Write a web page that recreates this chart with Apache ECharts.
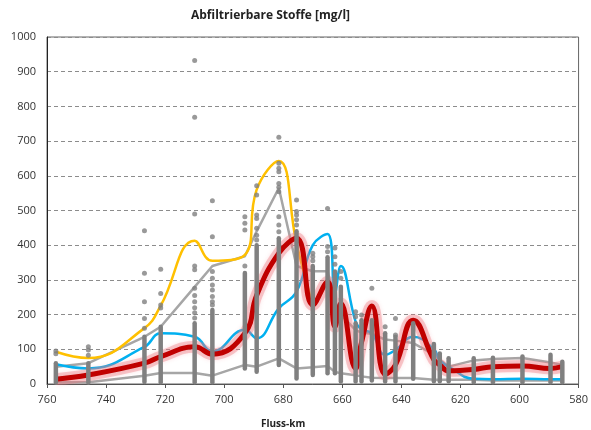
<!DOCTYPE html>
<html>
<head>
<meta charset="utf-8">
<script src="https://cdn.jsdelivr.net/npm/echarts@6/dist/echarts.min.js"></script>
<style>
  html, body { margin: 0; padding: 0; background: #fff; }
</style>
</head>
<body>
<div id="chart" style="width:591px;height:430px;"></div>
<script>
// Messstellen (Fluss-km)
var stations = [757, 746, 727, 721.5, 710, 704, 693, 689, 681.5, 675.5, 670, 665, 662.5, 660.5,
  655.5, 653.5, 650, 645.5, 642, 636, 629, 627, 624, 615.5, 609, 599, 589.5, 585.5];

var redLine   = [14, 26, 60, 79, 107, 86, 146, 256, 377, 420, 228, 295, 165, 232,
  45, 120, 225, 28, 55, 184, 70, 55, 38, 42, 50, 52, 45, 50];
var blueLine  = [57, 45, 107, 146, 136, 93, 156, 132, 218, 266, 400, 432, 262, 340,
  180, 158, 146, 84, 98, 136, 100, 68, 50, 15, 14, 15, 14, 14];
var grayUpper = [50, 60, 136, 165, 280, 340, 368, 440, 565, 340, 325, 325, 240, 200,
  155, 148, 145, 128, 125, 118, 85, 70, 50, 68, 72, 75, 62, 55];
var grayLower = [5, 5, 24, 32, 32, 24, 55, 50, 74, 45, 48, 52, 35, 31,
  25, 22, 18, 17, 17, 17, 12, 12, 12, 12, 10, 10, 10, 10];
// gelbe Linie endet bei km 670
var yellowLine = [93, 75, 161, 226, 413, 355, 372, 560, 643, 405, 228];

// dichte Messwertsäulen je Station (von - bis)
var colLow  = [4, 4, 6, 5, 5, 5, 45, 35, 55, 16, 26, 31, 31, 7, 7, 7, 10, 7, 7, 15, 8, 8, 8, 5, 5, 5, 5, 5];
var colHigh = [60, 60, 136, 165, 175, 213, 320, 400, 420, 440, 340, 365, 324, 280,
  175, 184, 184, 146, 136, 175, 115, 88, 74, 74, 76, 79, 84, 64];

// einzelne Messwerte oberhalb der Säulen
var dots = [
  [757, 87], [757, 95], [746, 83], [746, 98], [746, 107],
  [727, 161], [727, 189], [727, 237], [727, 319], [727, 442],
  [721.5, 219], [721.5, 228], [721.5, 261], [721.5, 331],
  [710, 190], [710, 205], [710, 220], [710, 237], [710, 255], [710, 276], [710, 329], [710, 340], [710, 490], [710, 769], [710, 932],
  [704, 228], [704, 237], [704, 252], [704, 271], [704, 285], [704, 305], [704, 324], [704, 424], [704, 528],
  [693, 340], [693, 444], [693, 463], [693, 482],
  [689, 415], [689, 429], [689, 449], [689, 477], [689, 487], [689, 545], [689, 571],
  [681.5, 439], [681.5, 458], [681.5, 482], [681.5, 554], [681.5, 567], [681.5, 578], [681.5, 612], [681.5, 622], [681.5, 636], [681.5, 711],
  [675.5, 458], [675.5, 473], [675.5, 487], [675.5, 497], [675.5, 530],
  [670, 355], [670, 367], [670, 377],
  [665, 381], [665, 396], [665, 506],
  [662.5, 345], [662.5, 367], [662.5, 392],
  [660.5, 305], [660.5, 324],
  [655.5, 194], [655.5, 208],
  [653.5, 199], [650, 276],
  [645.5, 165], [642, 141], [642, 189]
];

function pairs(vals) {
  return vals.map(function (v, i) { return [stations[i], v]; });
}

var chart = echarts.init(document.getElementById('chart'));
var font = 'Open Sans';

var option = {
  animation: false,
  title: [
    { text: 'Abfiltrierbare Stoffe [mg/l]', left: 186, top: 5,
      textStyle: { fontFamily: font, fontSize: 12, fontWeight: 'bold', color: '#222' } },
    { text: 'Fluss-km', left: 256, top: 414,
      textStyle: { fontFamily: font, fontSize: 10, fontWeight: 'bold', color: '#222' } }
  ],
  grid: { left: 47, right: 10, top: 37, bottom: 46, show: true, borderColor: '#666', borderWidth: 1 },
  xAxis: {
    type: 'value', min: 580, max: 760, interval: 20, inverse: true,
    axisLine: { show: true, onZero: false, lineStyle: { color: '#555' } },
    axisTick: { show: true, length: 4, lineStyle: { color: '#555' } },
    axisLabel: { fontFamily: font, fontSize: 11, color: '#333', margin: 10 },
    splitLine: { show: false }
  },
  yAxis: {
    type: 'value', min: 0, max: 1000, interval: 100,
    axisLine: { show: true, lineStyle: { color: '#222' } },
    axisTick: { show: false },
    axisLabel: { fontFamily: font, fontSize: 11, color: '#333', margin: 11,
      formatter: function (v) { return String(v); } },
    splitLine: { show: true, lineStyle: { color: '#8c8c8c', type: [4, 3] } }
  },
  series: [
    { type: 'line', data: pairs(grayLower), symbol: 'none', z: 2,
      lineStyle: { color: '#a6a6a6', width: 2.5 } },
    { type: 'line', data: pairs(grayUpper), symbol: 'none', z: 2,
      lineStyle: { color: '#a6a6a6', width: 2.5 } },
    { type: 'line', data: pairs(yellowLine), symbol: 'none', smooth: 0.45, z: 3,
      lineStyle: { color: '#ffc000', width: 2.5 } },
    { type: 'line', data: pairs(blueLine), symbol: 'none', smooth: 0.45, z: 3,
      lineStyle: { color: '#00b0f0', width: 2.5 } },
    // Leuchteffekt unter der roten Linie
    { type: 'line', data: pairs(redLine), symbol: 'none', smooth: 0.45, z: 4,
      lineStyle: { color: 'rgba(236,120,130,0.38)', width: 12, shadowColor: 'rgba(240,120,130,0.5)', shadowBlur: 4 } },
    { type: 'line', data: pairs(redLine), symbol: 'none', smooth: 0.45, z: 4,
      lineStyle: { color: '#c00000', width: 5 } },
    {
      type: 'custom', z: 5,
      data: stations.map(function (k, i) { return [k, colLow[i], colHigh[i]]; }),
      encode: { x: 0, y: [1, 2] },
      renderItem: function (params, api) {
        var a = api.coord([api.value(0), api.value(1)]);
        var b = api.coord([api.value(0), api.value(2)]);
        return { type: 'line', shape: { x1: a[0], y1: a[1], x2: b[0], y2: b[1] },
          style: { stroke: '#808080', lineWidth: 4.5, lineCap: 'round' } };
      }
    },
    { type: 'scatter', data: dots, symbolSize: 5, z: 6,
      itemStyle: { color: '#808080' } }
  ]
};

chart.setOption(option);
window.addEventListener('resize', function () { chart.resize(); });
</script>
</body>
</html>
